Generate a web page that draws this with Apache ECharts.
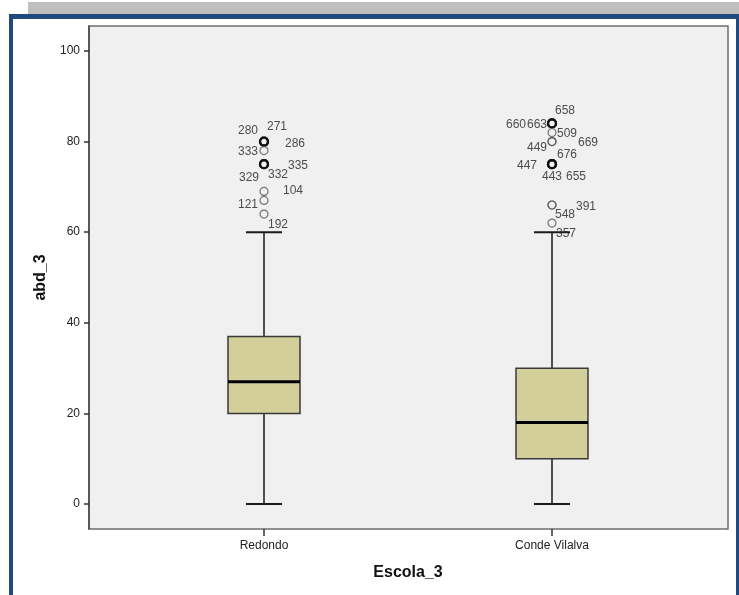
<!DOCTYPE html>
<html>
<head>
<meta charset="utf-8">
<title>abd_3 por Escola_3</title>
<script src="https://cdn.jsdelivr.net/npm/echarts@6/dist/echarts.min.js"></script>
<style>
  html, body { margin: 0; padding: 0; background: #ffffff; }
  #chart { width: 739px; height: 595px; }
</style>
</head>
<body>
<div id="chart"></div>
<script>
// Schools on the category axis
const categories = ['Redondo', 'Conde Vilalva'];

// Five-number summaries: [lower whisker, Q1, median, Q3, upper whisker]
const redondoBox = [0, 20, 27, 37, 60];
const condeBox = [0, 10, 18, 30, 60];

// Outlying cases: value and case number
const redondoOutlierValues = [80, 80, 80, 78, 75, 75, 75, 69, 67, 64];
const redondoOutlierCases = ['280', '271', '286', '333', '335', '329', '332', '104', '121', '192'];
const condeOutlierValues = [84, 84, 84, 82, 80, 80, 75, 75, 75, 75, 66, 66, 62];
const condeOutlierCases = ['658', '660', '663', '509', '449', '669', '676', '447', '443', '655', '391', '548', '357'];

// Y axis tick labels
const yTicks = [0, 20, 40, 60, 80, 100];

// Where each case number sits around its circle (px)
const caseLabelOffsets = {
  '280': [-16, -11], '271': [13, -15], '286': [31, 2], '333': [-16, 1],
  '335': [34, 1], '329': [-15, 13], '332': [14, 10], '104': [29, -1],
  '121': [-16, 4], '192': [14, 11],
  '658': [13, -13], '660': [-36, 1], '663': [-15, 1], '509': [15, 1],
  '669': [36, 1], '449': [-15, 6], '676': [15, -10], '447': [-25, 1],
  '443': [0, 12], '655': [24, 12], '391': [34, 2], '548': [13, 10],
  '357': [14, 11]
};

const FONT = "'Liberation Sans', Arial, sans-serif";

const boxes = [redondoBox, condeBox];
const boxData = boxes.map((b, i) => [i].concat(b));

function outlierPoints(catIndex, values, cases) {
  const counts = {};
  values.forEach(v => { counts[v] = (counts[v] || 0) + 1; });
  return values.map((v, k) => {
    const heavy = counts[v] >= 3;
    return {
      value: [catIndex, v],
      name: cases[k],
      itemStyle: {
        color: 'rgba(0,0,0,0)',
        borderColor: heavy ? '#111111' : '#555555',
        borderWidth: heavy ? 2.2 : 1.2
      }
    };
  });
}

const outliers = outlierPoints(0, redondoOutlierValues, redondoOutlierCases)
  .concat(outlierPoints(1, condeOutlierValues, condeOutlierCases));

function renderBox(params, api) {
  const idx = api.value(0);
  const low = api.coord([idx, api.value(1)]);
  const q1 = api.coord([idx, api.value(2)]);
  const med = api.coord([idx, api.value(3)]);
  const q3 = api.coord([idx, api.value(4)]);
  const high = api.coord([idx, api.value(5)]);
  const band = api.size([1, 0])[0];
  const boxW = band * 0.25;
  const capW = boxW / 2;
  const x = med[0];
  const stroke = '#1a1a1a';
  return {
    type: 'group',
    children: [
      { type: 'line', shape: { x1: x, y1: high[1], x2: x, y2: q3[1] }, style: { stroke: stroke, lineWidth: 1.5 } },
      { type: 'line', shape: { x1: x, y1: q1[1], x2: x, y2: low[1] }, style: { stroke: stroke, lineWidth: 1.5 } },
      { type: 'line', shape: { x1: x - capW / 2, y1: high[1], x2: x + capW / 2, y2: high[1] }, style: { stroke: stroke, lineWidth: 2 } },
      { type: 'line', shape: { x1: x - capW / 2, y1: low[1], x2: x + capW / 2, y2: low[1] }, style: { stroke: stroke, lineWidth: 2 } },
      { type: 'rect', shape: { x: x - boxW / 2, y: q3[1], width: boxW, height: q1[1] - q3[1] },
        style: { fill: '#d3cf9b', stroke: '#3a3a3a', lineWidth: 1.5 } },
      { type: 'line', shape: { x1: x - boxW / 2, y1: med[1], x2: x + boxW / 2, y2: med[1] }, style: { stroke: '#000000', lineWidth: 3 } }
    ]
  };
}

const chart = echarts.init(document.getElementById('chart'), null, { renderer: 'canvas' });

chart.setOption({
  backgroundColor: '#ffffff',
  animation: false,
  textStyle: { fontFamily: FONT },
  graphic: [
    { type: 'rect', shape: { x: 28, y: 2, width: 711, height: 12 }, style: { fill: '#bfbfbf' }, z: 100 },
    { type: 'rect', shape: { x: 9, y: 14, width: 730, height: 5 }, style: { fill: '#1e4a80' }, z: 100 },
    { type: 'rect', shape: { x: 9, y: 14, width: 4, height: 581 }, style: { fill: '#1e4a80' }, z: 100 },
    { type: 'rect', shape: { x: 736, y: 14, width: 3, height: 581 }, style: { fill: '#1e4a80' }, z: 100 }
  ],
  grid: [
    { left: 89, top: 26, width: 639, height: 503, show: true,
      backgroundColor: '#f0f0f0', borderColor: '#6e6e6e', borderWidth: 1.5 },
    { left: 120, top: 26, width: 576, height: 503 }
  ],
  xAxis: [
    { gridIndex: 0, type: 'value', show: false, min: 0, max: 1 },
    {
      gridIndex: 1, type: 'category', data: categories,
      axisLine: { show: false, onZero: false },
      axisTick: { show: true, alignWithLabel: true, length: 7, lineStyle: { color: '#333333', width: 1.5 } },
      axisLabel: { margin: 11, fontSize: 12, color: '#222222', fontFamily: FONT },
      name: 'Escola_3', nameLocation: 'middle', nameGap: 36,
      nameTextStyle: { fontSize: 16, fontWeight: 'bold', color: '#111111', fontFamily: FONT },
      splitLine: { show: false }
    }
  ],
  yAxis: [
    { gridIndex: 0, type: 'value', show: false, min: 0, max: 1 },
    {
      gridIndex: 1, type: 'value', min: -5.5, max: 105.5, offset: 31,
      axisLine: { show: true, lineStyle: { color: '#444444', width: 1.5 } },
      axisTick: { show: true, customValues: yTicks, length: 5, lineStyle: { color: '#333333', width: 1.5 } },
      axisLabel: { customValues: yTicks, margin: 9, fontSize: 12, color: '#222222', fontFamily: FONT },
      splitLine: { show: false },
      name: 'abd_3', nameLocation: 'middle', nameGap: 32, nameRotate: 90,
      nameTextStyle: { fontSize: 16, fontWeight: 'bold', color: '#111111', fontFamily: FONT }
    }
  ],
  series: [
    {
      type: 'custom', name: 'abd_3',
      xAxisIndex: 1, yAxisIndex: 1,
      renderItem: renderBox,
      encode: { x: 0, y: [1, 2, 3, 4, 5] },
      data: boxData, z: 2
    },
    {
      type: 'scatter', name: 'outliers',
      xAxisIndex: 1, yAxisIndex: 1,
      symbol: 'circle', symbolSize: 8,
      label: {
        show: true, position: 'inside', formatter: p => p.name,
        fontSize: 12, color: '#222222', fontFamily: FONT
      },
      labelLayout: function (params) {
        const off = caseLabelOffsets[outliers[params.dataIndex].name] || [14, 0];
        return { dx: off[0], dy: off[1], hideOverlap: false };
      },
      data: outliers, z: 3
    }
  ]
});
</script>
</body>
</html>
